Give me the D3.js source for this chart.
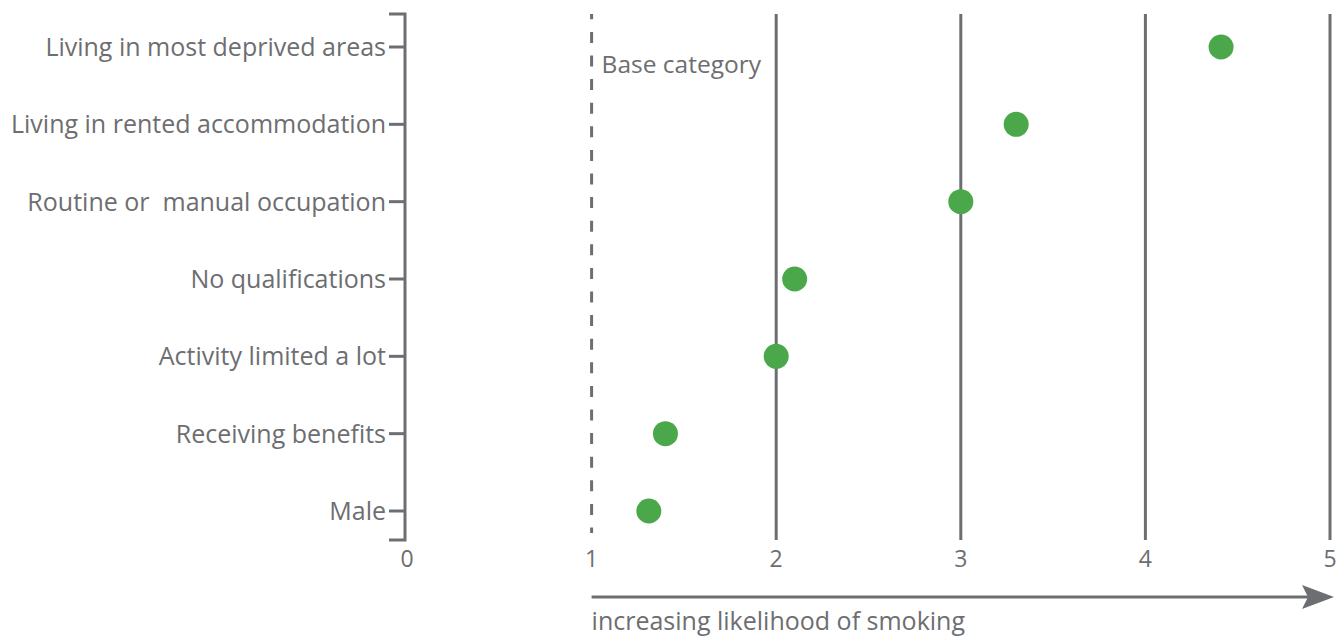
<!DOCTYPE html>
<html><head><meta charset="utf-8">
<script src="https://cdn.jsdelivr.net/npm/d3@7"></script>
<style>body{margin:0;background:#fff}svg{display:block}text{font-family:"Open Sans","Noto Sans",sans-serif;fill:#6d6e71}</style>
</head><body><svg id="c" width="1342" height="638"></svg>
<script>
const categories = ["Living in most deprived areas","Living in rented accommodation","Routine or  manual occupation","No qualifications","Activity limited a lot","Receiving benefits","Male"];
const values = [4.41, 3.30, 3.00, 2.10, 2.00, 1.40, 1.31];
const xTicks = [0,1,2,3,4,5];
const gridValues = [2,3,4,5];
const baseValue = 1;
const baseLabel = "Base category";
const arrowLabel = "increasing likelihood of smoking";

(function(){
const grey = "#6d6e71", green = "#4ba84a";
const svg = d3.select("#c");
const x = d3.scaleLinear().domain([0,5]).range([407,1330]);
const y = d3.scalePoint().domain(categories).range([47,511]);
const yTop = 14, yBottom = 540;

svg.selectAll("line.grid").data(gridValues).join("line").attr("class","grid")
  .attr("x1",d=>x(d)).attr("x2",d=>x(d)).attr("y1",yTop).attr("y2",yBottom)
  .attr("stroke",grey).attr("stroke-width",3);
svg.append("line").attr("x1",x(baseValue)).attr("x2",x(baseValue)).attr("y1",yTop).attr("y2",533)
  .attr("stroke",grey).attr("stroke-width",3).attr("stroke-dasharray","11,12.6").attr("stroke-dashoffset",5.7);
svg.append("text").attr("x",x(baseValue)+10).attr("y",73).attr("font-size",24.5).text(baseLabel);

const ax = 405;
svg.append("path").attr("d",`M389,${yTop}H${ax}V${yBottom}H389`).attr("fill","none").attr("stroke",grey).attr("stroke-width",3);
svg.selectAll("line.tick").data(categories).join("line").attr("class","tick")
  .attr("x1",389).attr("x2",ax).attr("y1",d=>y(d)).attr("y2",d=>y(d)).attr("stroke",grey).attr("stroke-width",3);
svg.selectAll("text.cat").data(categories).join("text").attr("class","cat")
  .attr("x",386).attr("y",d=>y(d)+9).attr("text-anchor","end").attr("font-size",25).style("white-space","pre").text(d=>d);

svg.selectAll("text.xt").data(xTicks).join("text").attr("class","xt")
  .attr("x",d=>x(d)).attr("y",567).attr("text-anchor","middle").attr("font-size",23).text(d=>d);

svg.append("line").attr("x1",x(1)).attr("x2",1315).attr("y1",597).attr("y2",597).attr("stroke",grey).attr("stroke-width",3);
svg.append("path").attr("d","M1302,585L1334,597L1302,609L1308,597Z").attr("fill",grey);
svg.append("text").attr("x",x(1)).attr("y",630).attr("font-size",25).text(arrowLabel);

svg.selectAll("circle").data(values).join("circle")
  .attr("cx",d=>x(d)).attr("cy",(d,i)=>y(categories[i])).attr("r",12.5).attr("fill",green);
})();
</script></body></html>
